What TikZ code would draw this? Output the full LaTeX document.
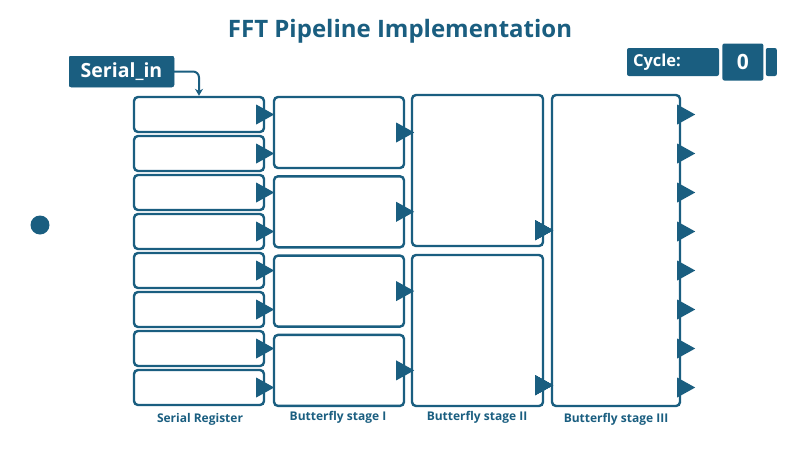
\documentclass[tikz,border=0pt]{standalone}
\usepackage{fontspec}
\setmainfont{Open Sans}
\usepackage{tikz}
\usetikzlibrary{arrows.meta,positioning,calc}
\definecolor{fftblue}{HTML}{1A5E80}
\tikzset{
  regbox/.style={draw=fftblue,fill=white,line width=2.4pt,rounded corners=4pt,
                 inner sep=0pt},
  tagbox/.style={fill=fftblue,text=white,rounded corners=2pt,font=\bfseries,
                 inner sep=0pt},
  stagelabel/.style={text=fftblue,font=\bfseries\fontsize{12}{14}\selectfont},
  inarr/.style={-{Stealth[length=7pt,width=8pt]},line width=2pt,draw=fftblue,
                rounded corners=6pt}
}
\newcommand{\outtri}[2][0,0]{%
  \fill[fftblue] ($(#2)+(#1)+(-9,-10)$) -- ++(18,10) -- ++(-18,10) -- cycle;}

\begin{document}
\begin{tikzpicture}[x=1pt,y=-1pt]
    \path[use as bounding box,fill=white] (0,0) rectangle (800,450);
    \node[text=fftblue,font=\bfseries\fontsize{24}{28}\selectfont] (title)
      at (400,31) {FFT Pipeline Implementation};
    % serial register
    \foreach \i in {1,...,8}
      \node[regbox,minimum width=130pt,minimum height=35pt] (sr\i)
        at (199,{114.5+39*(\i-1)}) {};
    % butterfly stages
    \foreach \i in {1,...,4}
      \node[regbox,minimum width=130pt,minimum height=71pt] (bfa\i)
        at (339,{132.5+79.3*(\i-1)}) {};
    \node[regbox,minimum width=131pt,minimum height=151pt] (bfb1) at (477.5,170.5) {};
    \node[regbox,minimum width=131pt,minimum height=151pt] (bfb2) at (477.5,330.5) {};
    \node[regbox,minimum width=128pt,minimum height=311pt] (bfc) at (616,250.5) {};
    % arrow heads
    \foreach \i in {1,...,8} {
      \outtri{sr\i.east}
      \path (bfc.east |- sr\i.east) coordinate (oc\i);
      \outtri[5,0]{oc\i}
    }
    \foreach \i in {1,...,4}
      \outtri{bfa\i.east}
    \outtri[0,-17]{bfb1.south east}
    \outtri[0,-22]{bfb2.south east}
    % input and counter
    \node[tagbox,minimum width=105pt,minimum height=31pt,
          font=\bfseries\fontsize{19.5}{21}\selectfont] (sin) at (121.5,71.5) {Serial\_in};
    \draw[inarr] (sin.east) -| (sr1.north);
    \node[tagbox,minimum width=92pt,minimum height=28pt,text width=80pt,align=left,
          font=\bfseries\fontsize{16.5}{18}\selectfont] (cyc) at (673,62) {Cycle:};
    \node[tagbox,minimum width=41pt,minimum height=37pt,
          font=\bfseries\fontsize{21}{23}\selectfont,right=3pt of cyc] (cnt) {0};
    \node[tagbox,minimum width=11pt,minimum height=28pt,right=2pt of cnt] (tab) {};
    \node[circle,fill=fftblue,minimum size=19pt,inner sep=0pt] (dot) at (40,225) {};
    % labels
    \node[stagelabel] (lsr) at (200,419) {Serial Register};
    \node[stagelabel] (lbfa) at (338,417) {Butterfly stage I};
    \node[stagelabel] (lbfb) at (477,417) {Butterfly stage II};
    \node[stagelabel] (lbfc) at (616,419) {Butterfly stage III};
  \end{tikzpicture}
\end{document}
